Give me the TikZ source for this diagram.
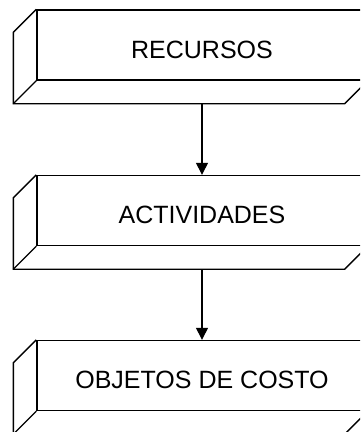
\documentclass[tikz,border=0pt]{standalone}
\usepackage{fontspec}
\setmainfont{Liberation Sans}
\usetikzlibrary{arrows.meta, positioning}

\tikzset{
  caja/.style={draw, line width=1.4pt, minimum width=330pt, minimum height=70pt,
    inner sep=0pt, text height=26pt, text depth=0pt, font=\fontsize{25}{29}\selectfont},
  flecha/.style={line width=1.4pt, -{Triangle[length=12pt,width=12pt]}}
}

\begin{document}
\begin{tikzpicture}[x=1pt, y=-1pt]
                \useasboundingbox (0,0) rectangle (360,432);
                \clip (0,0) rectangle (360,432);

                \node[caja] (rec) at (202, 45) {RECURSOS};
                \node[caja] (act) at (202, 210.5) {ACTIVIDADES};
                \node[caja] (obj) at (202, 375.5) {OBJETOS DE COSTO};

                % caras laterales e inferiores
                \foreach \n in {rec, act, obj} {
                    \draw[line width=1.4pt] (\n.north west) -- ([shift={(-23pt,-23pt)}]\n.north west)
                        -- ([shift={(-23pt,-23pt)}]\n.south west) -- ([shift={(-23pt,-23pt)}]\n.south east)
                        -- (\n.south east);
                    \draw[line width=1.4pt] (\n.south west) -- ([shift={(-23pt,-23pt)}]\n.south west);
                    \coordinate (\n-b) at ([yshift=-23pt]\n.south);
                }

                \draw[flecha] (rec-b) -- (act);
                \draw[flecha] (act-b) -- (obj);
            \end{tikzpicture}
\end{document}
